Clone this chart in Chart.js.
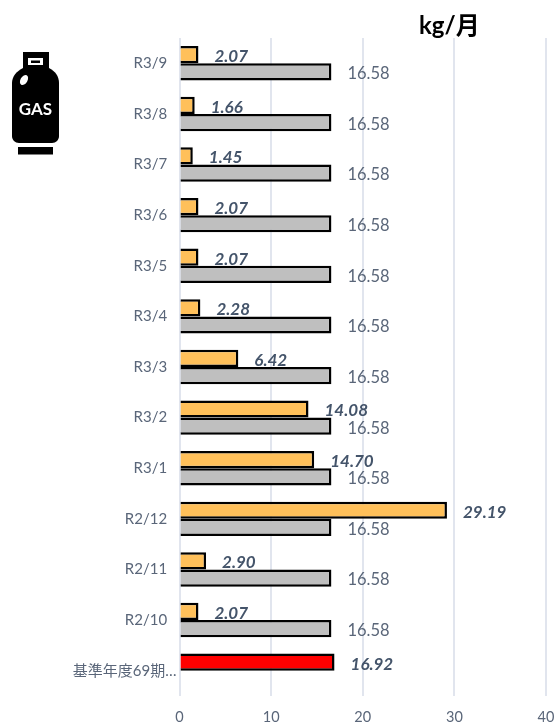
<!DOCTYPE html>
<html>
<head>
<meta charset="utf-8">
<script src="https://cdn.jsdelivr.net/npm/chart.js@4"></script>
<style>
  html, body { margin: 0; padding: 0; background: #fff; }
  #wrap { position: relative; width: 556px; height: 722px; }
  #icon { position: absolute; left: 0; top: 0; }
</style>
</head>
<body>
<div id="wrap">
  <canvas id="myChart" width="556" height="722"></canvas>
  <svg id="icon" width="70" height="160" viewBox="0 0 70 160">
    <path d="M23 52h26v18h-26z" fill="#000"/>
    <path d="M28 58h15v7h-15z" fill="#fff"/>
    <path d="M31 60.500h9v2.500h-9z" fill="#000"/>
    <path d="M23 68h26c6 3 10 8 10 15v53c0 4-3 7-7 7h-33c-4 0-7-3-7-7v-53c0-7 5-12 11-15z" fill="#000"/>
    <ellipse cx="24" cy="80" rx="3.500" ry="5.500" transform="rotate(30 24 80)" fill="#fff"/>
    <rect x="18" y="147" width="35" height="7.500" fill="#000"/>
    <text x="35.500" y="115" text-anchor="middle" font-family="Lato" font-weight="700" font-size="17" fill="#fff">GAS</text>
  </svg>
</div>
<script>
// months, top to bottom
const categories = ["R3/9", "R3/8", "R3/7", "R3/6", "R3/5", "R3/4", "R3/3", "R3/2", "R3/1", "R2/12", "R2/11", "R2/10", "基準年度69期…"];
const usage = [2.07, 1.66, 1.45, 2.07, 2.07, 2.28, 6.42, 14.08, 14.70, 29.19, 2.90, 2.07, 16.92];
const reference = [16.58, 16.58, 16.58, 16.58, 16.58, 16.58, 16.58, 16.58, 16.58, 16.58, 16.58, 16.58, null];
const xTicks = [0, 10, 20, 30, 40];

const usageColors = categories.map((c, i) => i === categories.length - 1 ? "#ff0000" : "#ffc05a");
const fontFamily = "Lato, 'Noto Sans CJK JP', sans-serif";

// draws the value next to each bar, and the unit at the top
const valueLabels = {
  id: "valueLabels",
  afterDatasetsDraw(chart) {
    const c = chart.ctx;
    c.save();
    c.textBaseline = "middle";
    c.textAlign = "left";
    chart.data.datasets.forEach((ds, d) => {
      chart.getDatasetMeta(d).data.forEach((bar, i) => {
        if (ds.data[i] === null) return;
        if (d === 0) {
          c.font = "italic 700 17px " + fontFamily;
          c.fillStyle = "#44546a";
          c.fillText(ds.data[i].toFixed(2), bar.x + 16, bar.y + 2);
        } else {
          c.font = "400 16.500px " + fontFamily;
          c.fillStyle = "#5a6679";
          c.fillText(ds.data[i].toFixed(2), bar.x + 16, bar.y + 2);
        }
      });
    });
    c.font = "700 24px " + fontFamily;
    c.fillStyle = "#000";
    c.fillText("kg/月", 419, 26);
    c.restore();
  }
};

const ctx = document.getElementById("myChart");
new Chart(ctx, {
  type: "bar",
  data: {
    labels: categories,
    datasets: [
      {
        data: usage,
        backgroundColor: usageColors,
        borderColor: "#000",
        borderWidth: 2.500,
      },
      {
        data: reference,
        backgroundColor: "#bfbfbf",
        borderColor: "#000",
        borderWidth: 2.500,
      },
    ],
  },
  options: {
    indexAxis: "y",
    responsive: false,
    animation: false,
    categoryPercentage: 0.68,
    barPercentage: 1,
    layout: { padding: { top: 38, right: 10, bottom: 0, left: 0 } },
    scales: {
      x: {
        min: 0,
        max: 40,
        afterBuildTicks(axis) { axis.ticks = xTicks.map(v => ({ value: v })); },
        afterFit(axis) { axis.height = 26; axis.paddingRight = 0; },
        border: { display: false },
        grid: { color: "#e1e5ee", lineWidth: 2, drawTicks: false },
        ticks: { color: "#5a6679", font: { family: fontFamily, size: 14.500 }, padding: 13, maxRotation: 0 },
      },
      y: {
        afterFit(axis) { axis.width = 179.500; },
        border: { display: false },
        grid: { display: false },
        ticks: {
          color: "#5a6679",
          font: { family: fontFamily, size: 15 },
          padding: -5,
          autoSkip: false,
          // short labels sit a little further from the axis than the long one
          callback(value, i) {
            const label = this.getLabelForValue(value);
            return i === categories.length - 1 ? label : label + "\u2002\u2009";
          },
        },
      },
    },
    plugins: {
      legend: { display: false },
      tooltip: { enabled: false },
    },
  },
  plugins: [valueLabels],
});
</script>
</body>
</html>
